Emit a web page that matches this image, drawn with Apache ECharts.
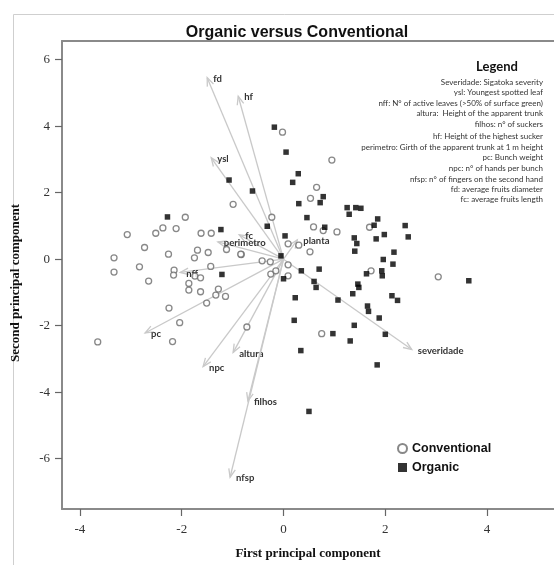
<!DOCTYPE html>
<html>
<head>
<meta charset="utf-8">
<script src="https://cdn.jsdelivr.net/npm/echarts@6/dist/echarts.min.js"></script>
<style>html,body{margin:0;padding:0;background:#fff}#c{width:554px;height:565px}</style>
</head>
<body>
<div id="c"></div>
<script>
// ---- data ----
const convX = [-3.07,-3.33,-3.33,-2.83,-2.73,-2.65,-2.51,-2.37,-2.11,-1.93,-2.26,-2.15,-2.16,-2.25,-2.04,-2.18,-3.65,-1.86,-1.86,-1.74,-1.63,-1.63,-1.51,-1.33,-1.28,-1.14,-1.75,-1.69,-1.48,-1.62,-1.42,-1.43,-1.12,-0.99,-0.83,-0.84,-0.72,-0.42,-0.26,-0.25,-0.23,-0.15,0.09,0.09,0.09,-0.02,0.95,0.65,0.53,0.59,0.78,1.05,0.30,0.52,1.69,1.72,3.04,0.75];
const convY = [0.74,0.04,-0.39,-0.23,0.35,-0.66,0.78,0.94,0.92,1.26,0.15,-0.33,-0.48,-1.47,-1.91,-2.48,-2.49,-0.73,-0.93,-0.51,-0.56,-0.98,-1.32,-1.08,-0.90,-1.12,0.04,0.27,0.20,0.78,0.78,-0.22,0.29,1.65,0.14,0.15,-2.04,-0.05,-0.08,-0.45,1.26,-0.35,0.46,-0.17,-0.50,3.82,2.98,2.16,1.83,0.97,0.86,0.82,0.42,0.22,0.96,-0.35,-0.53,-2.24];
const orgX = [-2.28,-1.23,-1.07,-0.61,-0.32,0.03,-1.21,0.00,-0.05,-0.18,0.05,0.29,0.18,0.78,0.72,0.30,0.46,0.81,1.25,1.42,1.52,1.29,1.78,1.85,1.98,1.82,2.39,2.45,1.39,1.44,1.40,2.17,1.96,2.15,1.63,1.93,1.94,3.64,1.46,1.48,1.36,0.70,0.35,0.60,0.64,0.23,1.07,2.13,2.24,1.65,1.67,0.21,1.88,1.39,0.97,1.31,2.00,0.34,1.84,0.50];
const orgY = [1.27,0.89,2.38,2.05,0.99,0.70,-0.46,-0.59,0.10,3.97,3.22,2.57,2.31,1.88,1.70,1.67,1.25,0.96,1.55,1.55,1.53,1.35,1.02,1.21,0.74,0.61,1.01,0.67,0.64,0.47,0.24,0.21,-0.01,-0.15,-0.44,-0.35,-0.50,-0.65,-0.75,-0.85,-1.04,-0.30,-0.35,-0.67,-0.85,-1.16,-1.23,-1.10,-1.24,-1.41,-1.57,-1.84,-1.77,-1.99,-2.24,-2.46,-2.26,-2.75,-3.18,-4.58];
const arrowNames = ['fd','hf','ysl','fc','perimetro','nff','pc','altura','npc','filhos','nfsp','severidade','planta'];
const arrowX = [-1.50,-0.89,-1.42,-0.87,-1.29,-2.03,-2.72,-0.99,-1.58,-0.70,-1.05,2.52,0.27];
const arrowY = [5.46,4.90,3.05,0.73,0.52,-0.40,-2.22,-2.81,-3.23,-4.27,-6.56,-2.72,0.58];
const xTicks = [-4,-2,0,2,4];
const yTicks = [-6,-4,-2,0,2,4,6];
const seriesNames = ['Conventional','Organic'];
const titleText = 'Organic versus Conventional';
const xTitle = 'First principal component';
const yTitle = 'Second principal component';
const legendTitle = 'Legend';
const legendLines = [
  'Severidade: Sigatoka severity',
  'ysl: Youngest spotted leaf',
  'nff: N\u00b0 of active leaves (>50% of surface green)',
  'altura:  Height of the apparent trunk',
  'filhos: n\u00b0 of suckers',
  'hf: Height of the highest sucker',
  'perimetro: Girth of the apparent trunk at 1 m height',
  'pc: Bunch weight',
  'npc: n\u00b0 of hands per bunch',
  'nfsp: n\u00b0 of fingers on the second hand',
  'fd: average fruits diameter',
  'fc: average fruits length'
];

// ---- build ----
const convData = convX.map((x,i)=>[x,convY[i]]);
const orgData = orgX.map((x,i)=>[x,orgY[i]]);
const arrowData = arrowX.map((x,i)=>[x,arrowY[i],arrowNames[i]]);

const legendYs = [82,92,103,113,124,136,147,157,168,179,189,199];
const graphics = [
  {type:'rect', left:11, top:12, shape:{width:700,height:700}, style:{fill:'none', stroke:'#cfcfcf', lineWidth:1}, silent:true, z:-10},
  {type:'text', x:497, y:67, style:{text:legendTitle, font:'bold 13px Lato', fill:'#111', textAlign:'center', textVerticalAlign:'middle'}}
];
legendLines.forEach((t,i)=>{
  graphics.push({type:'text', x:543, y:legendYs[i], style:{text:t, font:'8px Lato', fill:'#333', textAlign:'right', textVerticalAlign:'middle'}});
});

const frameLine = {show:true, onZero:false, lineStyle:{color:'#8a8a8a', width:2}};
const XMIN = -4.352, XMAX = 5.314;
const chart = echarts.init(document.getElementById('c'), null, {renderer:'canvas'});
chart.setOption({
  animation:false,
  backgroundColor:'#fff',
  title:{text:titleText, left:292, textAlign:'center', top:20, textStyle:{fontFamily:'Liberation Sans', fontWeight:'bold', fontSize:16, color:'#111'}},
  grid:{left:62, top:41, right:0, bottom:51, show:false},
  xAxis:[
   {type:'value', position:'bottom', min:XMIN, max:XMAX,
    name:xTitle, nameLocation:'middle', nameGap:38,
    nameTextStyle:{fontFamily:'Liberation Serif', fontWeight:'bold', fontSize:13, color:'#111'},
    axisLine:frameLine, splitLine:{show:false},
    axisTick:{show:true, customValues:xTicks, length:7, lineStyle:{color:'#666', width:1.2}},
    axisLabel:{customValues:xTicks, margin:14, fontFamily:'Liberation Serif', fontSize:13, color:'#333'}},
   {type:'value', position:'top', min:XMIN, max:XMAX,
    axisLine:frameLine, axisTick:{show:false}, axisLabel:{show:false}, splitLine:{show:false}}
  ],
  yAxis:{type:'value', min:-7.515, max:6.562,
    name:yTitle, nameLocation:'middle', nameGap:40,
    nameTextStyle:{fontFamily:'Liberation Serif', fontWeight:'bold', fontSize:13, color:'#111', padding:[0,16,0,0]},
    axisLine:frameLine, splitLine:{show:false},
    axisTick:{show:true, customValues:yTicks, length:7, lineStyle:{color:'#666', width:1.2}},
    axisLabel:{customValues:yTicks, margin:12, fontFamily:'Liberation Serif', fontSize:13, color:'#333'}},
  legend:{data:seriesNames, orient:'vertical', left:392, top:437, itemWidth:9, itemHeight:9, itemGap:6,
    textStyle:{fontFamily:'Liberation Sans', fontWeight:'bold', fontSize:12.5, color:'#111'}},
  graphic:graphics,
  series:[
    {type:'custom', name:'arrows', z:1, silent:true, data:arrowData,
      renderItem:function(params, api){
        const p0 = api.coord([0,0]);
        const p1 = api.coord([api.value(0), api.value(1)]);
        const ang = Math.atan2(p1[1]-p0[1], p1[0]-p0[0]);
        const L = 9, a = 0.38;
        const h1 = [p1[0]-L*Math.cos(ang-a), p1[1]-L*Math.sin(ang-a)];
        const h2 = [p1[0]-L*Math.cos(ang+a), p1[1]-L*Math.sin(ang+a)];
        const st = {stroke:'#c9c9c9', lineWidth:1.3, fill:'none'};
        return {type:'group', children:[
          {type:'line', shape:{x1:p0[0],y1:p0[1],x2:p1[0],y2:p1[1]}, style:st},
          {type:'polyline', shape:{points:[h1,p1,h2]}, style:st},
          {type:'text', x:p1[0]+6, y:p1[1]+1, style:{text:arrowNames[params.dataIndex], font:'bold 9.5px Lato', fill:'#333', textAlign:'left', textVerticalAlign:'middle'}}
        ]};
      }},
    {type:'scatter', name:seriesNames[0], z:3, data:convData, symbol:'circle', symbolSize:6,
      itemStyle:{color:'#fff', borderColor:'#6a6a6a', borderWidth:1.3}},
    {type:'scatter', name:seriesNames[1], z:4, data:orgData, symbol:'rect', symbolSize:5.5,
      itemStyle:{color:'#000'}}
  ]
});
</script>
</body>
</html>
